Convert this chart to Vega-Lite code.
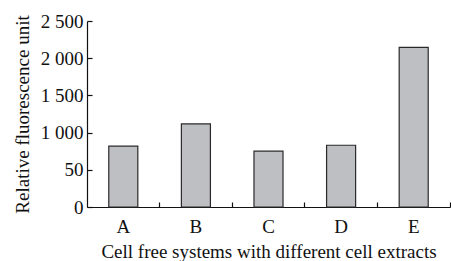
{
  "$schema": "https://vega.github.io/schema/vega-lite/v6.json",
  "autosize": {"type": "none"},
  "padding": {"left": 87, "top": 21, "right": 1, "bottom": 54},
  "width": 363,
  "height": 186,
  "background": "white",
  "data": {"values": [
    {"system": "A", "value": 817},
    {"system": "B", "value": 1117},
    {"system": "C", "value": 750},
    {"system": "D", "value": 830},
    {"system": "E", "value": 2146}
  ]},
  "mark": {"type": "bar", "width": {"band": 0.4}, "fill": "#bebfc3", "stroke": "#2a2a2a", "strokeWidth": 1.2},
  "encoding": {
    "x": {
      "field": "system", "type": "nominal",
      "scale": {"paddingInner": 0, "paddingOuter": 0},
      "axis": {
        "title": "Cell free systems with different cell extracts",
        "labelAngle": 0,
        "bandPosition": 1,
        "tickSize": -5,
        "labelPadding": 15,
        "titlePadding": 6
      }
    },
    "y": {
      "field": "value", "type": "quantitative",
      "scale": {"domain": [0, 2500], "nice": false},
      "axis": {
        "title": "Relative fluorescence unit",
        "values": [0, 500, 1000, 1500, 2000, 2500],
        "labelExpr": "datum.value == 500 ? '50' : replace(format(datum.value, ','), ',', ' ')",
        "tickSize": -5,
        "labelPadding": 9,
        "titlePadding": 8,
        "grid": false
      }
    }
  },
  "config": {
    "view": {"stroke": null},
    "font": "Liberation Serif",
    "axis": {
      "domainColor": "#111",
      "domainWidth": 1.2,
      "tickColor": "#111",
      "tickWidth": 1.2,
      "labelFont": "Liberation Serif",
      "titleFont": "Liberation Serif",
      "labelFontSize": 19,
      "titleFontSize": 19,
      "titleFontWeight": "normal",
      "labelColor": "#111",
      "titleColor": "#111"
    }
  }
}
